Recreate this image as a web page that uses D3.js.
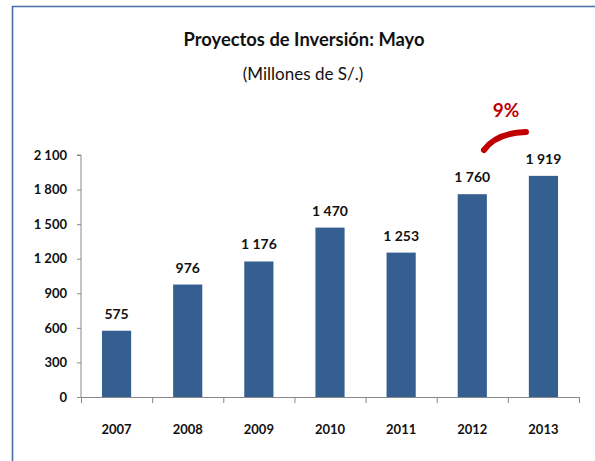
<!DOCTYPE html>
<html>
<head>
<meta charset="utf-8">
<script src="https://cdn.jsdelivr.net/npm/d3@7"></script>
<style>
  html, body { margin: 0; padding: 0; background: #fff; }
  svg text { font-family: Lato, "Open Sans", sans-serif; }
</style>
</head>
<body>
<svg id="chart" width="595" height="461"></svg>
<script>
// Inversión en proyectos, mes de mayo (millones de S/.)
const years = ["2007", "2008", "2009", "2010", "2011", "2012", "2013"];
const values = [575, 976, 1176, 1470, 1253, 1760, 1919];
const yTicks = [0, 300, 600, 900, 1200, 1500, 1800, 2100];
const growthLabel = "9%";

const svg = d3.select("#chart");
const W = 595, H = 461;

const locale = d3.formatLocale({ decimal: ",", thousands: " ", grouping: [3], currency: ["S/.", ""] });
const fmt = locale.format(",d");

// frame
svg.append("path")
  .attr("d", `M12.5,${H} V6.5 H${W}`)
  .attr("fill", "none")
  .attr("stroke", "#4a6ea8")
  .attr("stroke-width", 1.6);

// titles
svg.append("text")
  .attr("x", 304).attr("y", 46)
  .attr("text-anchor", "middle")
  .attr("font-size", 19.5).attr("font-weight", "bold")
  .attr("fill", "#111")
  .attr("textLength", 241).attr("lengthAdjust", "spacingAndGlyphs")
  .text("Proyectos de Inversión: Mayo");
svg.append("text")
  .attr("x", 303).attr("y", 80)
  .attr("text-anchor", "middle")
  .attr("font-size", 17)
  .attr("fill", "#111")
  .text("(Millones de S/.)");

const x = d3.scaleBand().domain(years).range([81, 579]).paddingInner(0.59).paddingOuter(0.295);
const xBound = d3.scaleBand().domain(years).range([81, 579]);
const y = d3.scaleLinear().domain([0, 2100]).range([397, 155]);

// y axis
const yAxis = svg.append("g")
  .attr("transform", "translate(81,0)")
  .call(d3.axisLeft(y).tickValues(yTicks).tickFormat(fmt).tickSize(4).tickPadding(10));
yAxis.select(".domain").attr("stroke", "#888").attr("d", `M-4,${y(2100)}H0V${y(0)}`);
yAxis.selectAll(".tick line").attr("stroke", "#888");
yAxis.selectAll("text")
  .attr("font-size", 13).attr("font-weight", "bold").attr("fill", "#111")
  .attr("font-family", "Lato, sans-serif");

// bars
svg.append("g").selectAll("rect")
  .data(values)
  .join("rect")
  .attr("x", (d, i) => x(years[i]))
  .attr("width", x.bandwidth())
  .attr("y", d => y(d))
  .attr("height", d => y(0) - y(d))
  .attr("fill", "#365f91");

// x axis (ticks at category boundaries)
const xg = svg.append("g");
xg.append("line")
  .attr("x1", 81).attr("x2", 579)
  .attr("y1", y(0) + 0.5).attr("y2", y(0) + 0.5)
  .attr("stroke", "#888");
xg.selectAll("line.tk")
  .data(years.map(d => xBound(d)).concat([579]))
  .join("line")
  .attr("class", "tk")
  .attr("x1", d => d + 0.5).attr("x2", d => d + 0.5)
  .attr("y1", y(0)).attr("y2", y(0) + 6)
  .attr("stroke", "#888");
xg.selectAll("text")
  .data(years)
  .join("text")
  .attr("x", d => xBound(d) + xBound.bandwidth() / 2)
  .attr("y", 434)
  .attr("text-anchor", "middle")
  .attr("font-size", 13).attr("font-weight", "bold").attr("fill", "#111")
  .text(d => d);

// value labels
svg.append("g").selectAll("text")
  .data(values)
  .join("text")
  .attr("x", (d, i) => x(years[i]) + x.bandwidth() / 2)
  .attr("y", d => y(d) - 12)
  .attr("text-anchor", "middle")
  .attr("font-size", 14).attr("font-weight", "bold").attr("fill", "#111")
  .text(d => fmt(d));

// growth marker between 2012 and 2013
svg.append("path")
  .attr("d", "M484,150 Q496,133 526,132")
  .attr("fill", "none")
  .attr("stroke", "#c00000")
  .attr("stroke-width", 6)
  .attr("stroke-linecap", "round");
svg.append("text")
  .attr("x", 506).attr("y", 117)
  .attr("text-anchor", "middle")
  .attr("font-size", 19).attr("font-weight", "bold").attr("fill", "#c00000")
  .text(growthLabel);
</script>
</body>
</html>
